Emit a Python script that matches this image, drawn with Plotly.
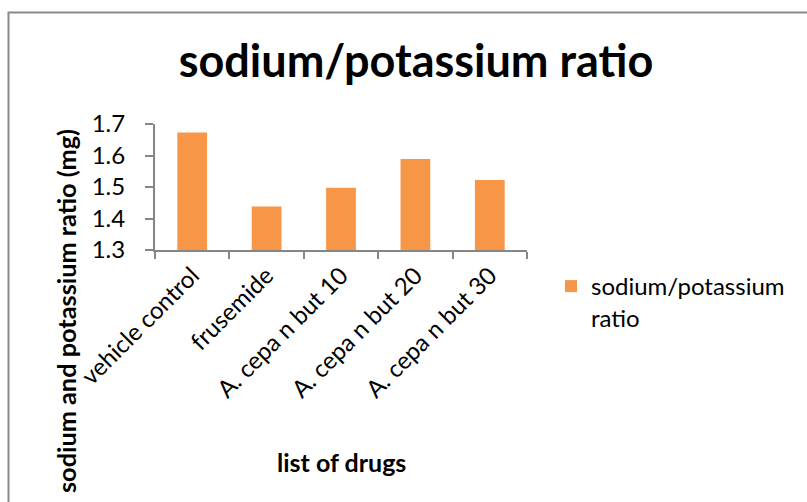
import plotly.graph_objects as go

categories = ["vehicle control", "frusemide", "A. cepa n but 10", "A. cepa n but 20", "A. cepa n but 30"]
values = [1.673, 1.438, 1.498, 1.589, 1.522]
series_name = "sodium/potassium<br>ratio"
y_ticks = [1.3, 1.4, 1.5, 1.6, 1.7]

FONT = "Lato"
AX = "#868686"

W, H = 807, 502
L, R, T, B = 155, 807 - 527, 124, 502 - 250
pw, ph = W - L - R, H - T - B

def px_x(x):
    return (x - L) / pw

def px_y(y):
    return (H - B - y) / ph

fig = go.Figure()
fig.add_trace(go.Bar(
    x=categories, y=values, name=series_name,
    marker=dict(color="#F79646", line=dict(width=0)),
    showlegend=True,
))

fig.update_layout(
    width=W, height=H,
    margin=dict(l=L, r=R, t=T, b=B, autoexpand=False),
    paper_bgcolor="white", plot_bgcolor="white",
    bargap=0.6,
    font=dict(family=FONT, color="black", size=24),
    title=dict(text="<b>sodium/potassium ratio</b>", font=dict(size=45, family=FONT, color="black"),
               x=416 / W, xanchor="center", xref="container",
               y=1 - 61 / H, yanchor="middle", yref="container"),
    xaxis=dict(showline=True, linecolor=AX, linewidth=2, ticks="outside", tickcolor=AX,
               ticklen=7, tickwidth=2, tickson="boundaries", tickangle=-45,
               tickfont=dict(size=24, family=FONT), showgrid=False, zeroline=False),
    yaxis=dict(range=[1.3, 1.7], tickvals=y_ticks, ticktext=[f"{v:.1f}" for v in y_ticks],
               showline=True, linecolor=AX, linewidth=2, ticks="outside", tickcolor=AX,
               ticklen=8, tickwidth=2, tickfont=dict(size=24, family=FONT),
               ticklabelstandoff=15, showgrid=False, zeroline=False),
    legend=dict(x=px_x(551), y=px_y(264), xanchor="left", yanchor="top", valign="top",
                font=dict(size=24, family=FONT), bgcolor="rgba(0,0,0,0)"),
    annotations=[
        dict(text="<b>sodium and potassium ratio (mg)</b>", textangle=-90,
             xref="paper", yref="paper", x=px_x(66), y=px_y(127),
             xanchor="center", yanchor="top", showarrow=False,
             font=dict(size=25.3, family=FONT)),
        dict(text="<b>list of drugs</b>", xref="paper", yref="paper",
             x=px_x(341), y=px_y(462), xanchor="center", yanchor="middle",
             showarrow=False, font=dict(size=25, family=FONT)),
    ],
    shapes=[
        dict(type="rect", xref="paper", yref="paper",
             x0=px_x(8.5), x1=px_x(830), y0=px_y(540), y1=px_y(12.5),
             line=dict(color="#8A8A8A", width=2), fillcolor="rgba(0,0,0,0)", layer="below"),
    ],
)

fig.write_html("out.html", config={"displayModeBar": False},
               post_script="document.body.style.margin='0';")
